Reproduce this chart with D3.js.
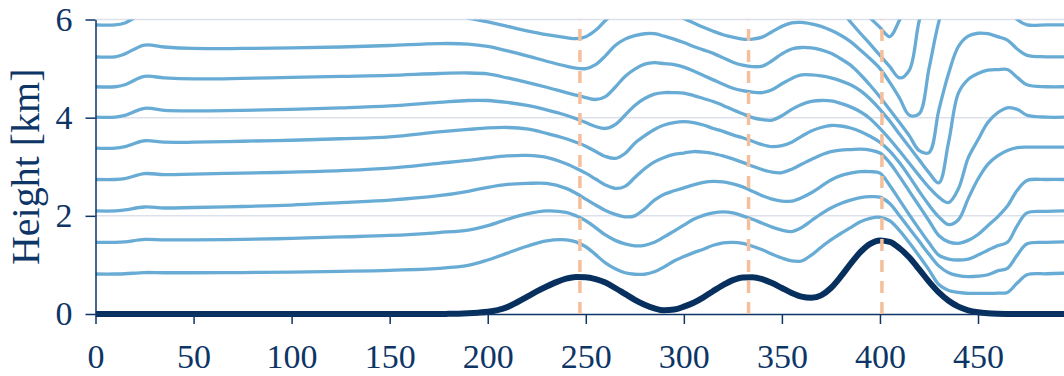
<!DOCTYPE html>
<html>
<head>
<meta charset="utf-8">
<script src="https://cdn.jsdelivr.net/npm/d3@7"></script>
<style>
  html, body { margin: 0; padding: 0; background: #fff; overflow: hidden; }
  svg { display: block; }
  text { font-family: "Liberation Serif", "DejaVu Serif", serif; }
</style>
</head>
<body>
<div id="chart"></div>
<script>
// x positions shared by streamlines
const xGrid = [0, 10, 15, 25, 35, 50, 75, 100, 125, 150, 175, 190, 200, 210, 220, 230, 240, 245, 250, 255,
  260, 265, 270, 275, 280, 285, 290, 295, 300, 305, 310, 315, 320, 325, 330, 335, 340, 345, 350, 355,
  360, 365, 370, 375, 380, 385, 390, 395, 400, 405, 410, 415, 420, 425, 430, 435, 440, 445, 450, 455,
  460, 465, 470, 475, 485, 494];

const line1 = [0.815, 0.815, 0.82, 0.845, 0.84, 0.84, 0.845, 0.855, 0.87, 0.89, 0.93, 0.99, 1.1, 1.24, 1.38, 1.49, 1.51, 1.47, 1.37, 1.21,
  1.04, 0.92, 0.84, 0.81, 0.81, 0.86, 0.96, 1.08, 1.17, 1.25, 1.32, 1.4, 1.45, 1.46, 1.44, 1.38, 1.31, 1.22, 1.14, 1.08,
  1.08, 1.2, 1.36, 1.51, 1.64, 1.76, 1.88, 1.95, 1.97, 1.9, 1.7, 1.45, 1.18, 0.9, 0.6, 0.48, 0.44, 0.42, 0.42, 0.42,
  0.425, 0.44, 0.63, 0.8, 0.82, 0.83];
const line2 = [1.46, 1.46, 1.47, 1.52, 1.51, 1.51, 1.52, 1.54, 1.57, 1.6, 1.66, 1.71, 1.8, 1.93, 2.04, 2.1, 2.07, 2.0, 1.9, 1.76,
  1.61, 1.5, 1.43, 1.39, 1.4, 1.46, 1.57, 1.69, 1.81, 1.93, 2.01, 2.06, 2.08, 2.06, 2.0, 1.93, 1.85, 1.77, 1.71, 1.68,
  1.76, 1.9, 2.04, 2.16, 2.25, 2.32, 2.37, 2.39, 2.38, 2.25, 2.0, 1.74, 1.48, 1.22, 0.98, 0.84, 0.78, 0.76, 0.77, 0.8,
  0.88, 0.93, 1.2, 1.43, 1.46, 1.47];
const line3 = [2.1, 2.1, 2.12, 2.18, 2.16, 2.17, 2.19, 2.22, 2.27, 2.32, 2.41, 2.5, 2.58, 2.64, 2.66, 2.66, 2.56, 2.46, 2.34, 2.22,
  2.11, 2.03, 1.98, 2.0, 2.14, 2.32, 2.44, 2.51, 2.57, 2.63, 2.68, 2.7, 2.69, 2.65, 2.59, 2.5, 2.41, 2.34, 2.3, 2.3,
  2.37, 2.47, 2.6, 2.73, 2.82, 2.87, 2.9, 2.9, 2.87, 2.62, 2.32, 2.02, 1.73, 1.45, 1.2, 1.12, 1.1, 1.12, 1.2, 1.3,
  1.39, 1.46, 1.8, 2.06, 2.09, 2.1];
const line4 = [2.74, 2.74, 2.76, 2.86, 2.84, 2.85, 2.87, 2.89, 2.92, 2.97, 3.07, 3.13, 3.18, 3.22, 3.23, 3.19, 3.06, 2.97, 2.87, 2.75,
  2.63, 2.56, 2.6, 2.78, 2.96, 3.1, 3.19, 3.25, 3.28, 3.31, 3.3, 3.27, 3.22, 3.16, 3.09, 3.01, 2.94, 2.89, 2.88, 2.95,
  3.05, 3.15, 3.24, 3.31, 3.34, 3.35, 3.36, 3.34, 3.28, 3.08, 2.8, 2.5, 2.2, 1.9, 1.6, 1.47, 1.44, 1.5, 1.62, 1.8,
  1.98, 2.2, 2.52, 2.72, 2.74, 2.74];
const line5 = [3.38, 3.38, 3.41, 3.53, 3.5, 3.5, 3.52, 3.54, 3.57, 3.61, 3.71, 3.76, 3.79, 3.8, 3.77, 3.68, 3.57, 3.5, 3.42, 3.31,
  3.21, 3.17, 3.27, 3.48, 3.63, 3.76, 3.85, 3.9, 3.92, 3.9, 3.85, 3.78, 3.72, 3.65, 3.59, 3.52, 3.45, 3.41, 3.43, 3.5,
  3.62, 3.73, 3.8, 3.84, 3.83, 3.79, 3.72, 3.62, 3.5, 3.32, 3.08, 2.8, 2.5, 2.22, 1.98, 1.82, 1.92, 2.35, 2.75, 3.05,
  3.22, 3.33, 3.39, 3.4, 3.4, 3.4];
const line6 = [4.01, 4.01, 4.045, 4.19, 4.15, 4.14, 4.15, 4.17, 4.2, 4.24, 4.31, 4.35, 4.35, 4.31, 4.25, 4.16, 4.05, 3.98, 3.9, 3.82,
  3.78, 3.86, 4.05, 4.25, 4.39, 4.48, 4.51, 4.51, 4.5, 4.45, 4.39, 4.33, 4.25, 4.16, 4.08, 4.0, 3.96, 3.95, 4.04, 4.17,
  4.27, 4.33, 4.35, 4.34, 4.29, 4.22, 4.12, 3.98, 3.78, 3.56, 3.32, 3.07, 2.82, 2.58, 2.38, 2.27, 2.55, 3.18, 3.55, 3.9,
  4.1, 4.2, 4.17, 4.05, 4.01, 4.01];
const line7 = [4.63, 4.63, 4.67, 4.84, 4.81, 4.79, 4.8, 4.82, 4.84, 4.86, 4.9, 4.91, 4.89, 4.81, 4.72, 4.62, 4.51, 4.46, 4.41, 4.37,
  4.43, 4.62, 4.84, 4.99, 5.09, 5.12, 5.1, 5.08, 5.03, 4.95, 4.86, 4.77, 4.68, 4.6, 4.55, 4.52, 4.51, 4.57, 4.69, 4.8,
  4.87, 4.87, 4.85, 4.81, 4.75, 4.67, 4.55, 4.38, 4.17, 3.93, 3.66, 3.4, 3.14, 2.88, 2.67, 3.5, 4.5, 4.78, 4.9, 4.97,
  4.98, 4.98, 4.82, 4.67, 4.63, 4.63];
const line8 = [5.24, 5.24, 5.3, 5.48, 5.44, 5.41, 5.41, 5.42, 5.44, 5.47, 5.51, 5.5, 5.45, 5.36, 5.26, 5.15, 5.05, 5.01, 5.0, 5.08,
  5.26, 5.47, 5.6, 5.67, 5.71, 5.71, 5.66, 5.6, 5.53, 5.45, 5.38, 5.31, 5.22, 5.13, 5.07, 5.04, 5.05, 5.16, 5.3, 5.4,
  5.43, 5.42, 5.38, 5.31, 5.2, 5.07, 4.88, 4.66, 4.42, 4.16, 3.9, 3.63, 3.33, 3.29, 4.15, 4.9, 5.45, 5.66, 5.72, 5.71,
  5.65, 5.58, 5.4, 5.27, 5.24, 5.24];
const line9 = [5.89, 5.89, 5.93, 6.13, 6.1, 6.08, 6.08, 6.1, 6.12, 6.15, 6.14, 6.03, 5.95, 5.86, 5.77, 5.69, 5.63, 5.61, 5.65, 5.78,
  5.98, 6.15, 6.26, 6.3, 6.31, 6.28, 6.2, 6.1, 6.02, 5.93, 5.84, 5.76, 5.69, 5.64, 5.6, 5.6, 5.64, 5.75, 5.86, 5.93,
  5.94, 5.91, 5.86, 5.78, 5.68, 5.55, 5.38, 5.2, 5.0, 4.72, 4.4, 4.05, 4.08, 5.0, 5.95, 6.6, 6.7, 6.6, 6.5, 6.45,
  6.4, 6.25, 6.0, 5.89, 5.89, 5.89];

// higher streamlines that only dip into view behind the last ridge
const upperX = [370, 375, 380, 385, 390, 395, 400, 405, 410, 415, 420, 425];
const line10 = [6.7, 6.45, 6.2, 5.95, 5.72, 5.5, 5.27, 5.04, 4.81, 4.97, 5.97, 6.6];
const line11 = [7.0, 6.8, 6.6, 6.4, 6.22, 6.03, 5.84, 5.65, 5.99, 6.4, 6.8, 7.0];

// terrain
const groundX = [0, 175, 180, 185, 190, 195, 200, 205, 210, 215, 220, 225, 230, 235, 240, 245, 250, 255, 260, 265,
  270, 275, 280, 285, 290, 295, 300, 305, 310, 315, 320, 325, 330, 335, 340, 345, 350, 355, 360, 365,
  370, 375, 380, 385, 390, 395, 400, 405, 410, 415, 420, 425, 430, 435, 440, 445, 450, 455, 460, 465, 470, 494];
const groundH = [0, 0, 0.003, 0.007, 0.015, 0.027, 0.045, 0.08, 0.14, 0.24, 0.35, 0.46, 0.56, 0.65, 0.72, 0.755, 0.75, 0.71, 0.64, 0.53,
  0.41, 0.29, 0.19, 0.115, 0.075, 0.09, 0.15, 0.23, 0.34, 0.47, 0.59, 0.69, 0.745, 0.75, 0.71, 0.63, 0.53, 0.43, 0.355, 0.33,
  0.38, 0.53, 0.76, 1.02, 1.26, 1.43, 1.5, 1.47, 1.34, 1.15, 0.91, 0.66, 0.44, 0.27, 0.15, 0.075, 0.035, 0.015, 0.006, 0.002, 0, 0];

// ridge crests
const ridgeX = [247, 333, 401];

const xTicks = [0, 50, 100, 150, 200, 250, 300, 350, 400, 450];
const yTicks = [0, 2, 4, 6];

const W = 1064, H = 376;
const navy = '#0d3566';
const serif = '"Liberation Serif", "DejaVu Serif", serif';

const svg = d3.select('#chart').append('svg')
  .attr('width', W).attr('height', H);

const x = d3.scaleLinear().domain([0, 494]).range([95.5, 1064.3]);
const y = d3.scaleLinear().domain([0, 6]).range([314, 19.5]);

// grid
svg.append('g').selectAll('line')
  .data(yTicks.filter(d => d > 0))
  .enter().append('line')
  .attr('x1', x(0)).attr('x2', W)
  .attr('y1', d => y(d)).attr('y2', d => y(d))
  .attr('stroke', '#dde1ec').attr('stroke-width', 1.5);

svg.append('clipPath').attr('id', 'plotClip')
  .append('rect')
  .attr('x', x(0)).attr('y', y(6))
  .attr('width', W - x(0)).attr('height', y(0) - y(6) + 10);

const plot = svg.append('g').attr('clip-path', 'url(#plotClip)');

const line = d3.line()
  .x(d => x(d[0]))
  .y(d => y(d[1]))
  .curve(d3.curveCatmullRom.alpha(0.5));

const streams = [line1, line2, line3, line4, line5, line6, line7, line8, line9]
  .map(vals => xGrid.map((xv, i) => [xv, vals[i]]));
streams.push(upperX.map((xv, i) => [xv, line10[i]]));
streams.push(upperX.map((xv, i) => [xv, line11[i]]));

plot.selectAll('path.stream')
  .data(streams)
  .enter().append('path')
  .attr('class', 'stream')
  .attr('d', line)
  .attr('fill', 'none')
  .attr('stroke', '#68acd5')
  .attr('stroke-width', 3.3)
  .attr('stroke-linejoin', 'round');

// axes
const yAxis = d3.axisLeft(y).tickValues(yTicks).tickFormat(d3.format('d'))
  .tickSize(10).tickSizeOuter(0).tickPadding(13);
const xAxis = d3.axisBottom(x).tickValues(xTicks).tickFormat(d3.format('d'))
  .tickSize(10).tickSizeOuter(0).tickPadding(20);

const gy = svg.append('g').attr('transform', `translate(${x(0)},0)`).call(yAxis);
const gx = svg.append('g').attr('transform', `translate(0,${y(0)})`).call(xAxis);

[gx, gy].forEach(g => {
  g.attr('font-family', serif).attr('font-size', 34);
  g.select('.domain').attr('stroke', navy).attr('stroke-width', 1.5);
  g.selectAll('.tick line').attr('stroke', navy).attr('stroke-width', 1.5);
  g.selectAll('.tick text').attr('fill', navy);
});

// terrain line
plot.append('path')
  .datum(groundX.map((xv, i) => [xv, groundH[i]]))
  .attr('d', d3.line().x(d => x(d[0])).y(d => y(d[1])).curve(d3.curveMonotoneX))
  .attr('fill', 'none')
  .attr('stroke', '#08305f')
  .attr('stroke-width', 6);

// ridge markers
svg.append('g').selectAll('line')
  .data(ridgeX)
  .enter().append('line')
  .attr('x1', d => x(d)).attr('x2', d => x(d))
  .attr('y1', y(0)).attr('y2', y(6))
  .attr('stroke', '#f6bf9c')
  .attr('stroke-width', 3.5)
  .attr('stroke-dasharray', '12,9');

svg.append('text')
  .attr('transform', 'rotate(-90)')
  .attr('x', -(y(0) + y(6)) / 2)
  .attr('y', 39)
  .attr('text-anchor', 'middle')
  .attr('fill', navy)
  .attr('font-family', serif)
  .attr('font-size', 40)
  .text('Height [km]');
</script>
</body>
</html>
